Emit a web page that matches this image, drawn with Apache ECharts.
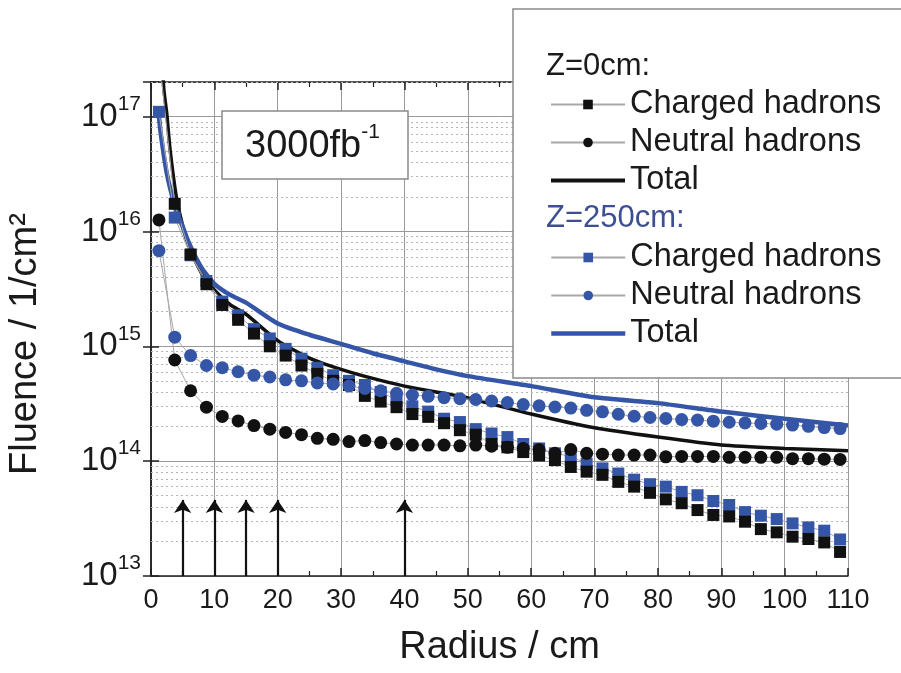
<!DOCTYPE html>
<html>
<head>
<meta charset="utf-8">
<script src="https://cdn.jsdelivr.net/npm/echarts@6/dist/echarts.min.js"></script>
<style>
  html, body { margin: 0; padding: 0; background: #fff; }
  #chart { width: 901px; height: 673px; }
</style>
</head>
<body>
<div id="chart"></div>
<script>
const FONT = "'Liberation Sans', Arial, Helvetica, sans-serif"
const BLUE = '#3556a6'

// radius of the simulated points (cm)
const radius = [1.25, 3.75, 6.25, 8.75, 11.25, 13.75, 16.25, 18.75, 21.25, 23.75,
  26.25, 28.75, 31.25, 33.75, 36.25, 38.75, 41.25, 43.75, 46.25, 48.75,
  51.25, 53.75, 56.25, 58.75, 61.25, 63.75, 66.25, 68.75, 71.25, 73.75,
  76.25, 78.75, 81.25, 83.75, 86.25, 88.75, 91.25, 93.75, 96.25, 98.75,
  101.25, 103.75, 106.25, 108.75]

// Z = 0 cm
const z0Charged = [3.5e17, 1.74e16, 6.3e15, 3.47e15, 2.29e15, 1.7e15, 1.29e15, 1.0e15, 8.3e14, 6.8e14,
  5.75e14, 5.0e14, 4.6e14, 3.7e14, 3.3e14, 2.95e14, 2.57e14, 2.43e14, 2.14e14, 1.86e14,
  1.7e14, 1.41e14, 1.32e14, 1.2e14, 1.12e14, 1.02e14, 8.9e13, 8.1e13, 7.6e13, 6.6e13,
  6.0e13, 5.3e13, 4.65e13, 4.3e13, 3.75e13, 3.4e13, 3.3e13, 2.97e13, 2.56e13, 2.4e13,
  2.2e13, 2.1e13, 1.96e13, 1.62e13]
const z0Neutral = [1.26e16, 7.6e14, 4.1e14, 2.95e14, 2.45e14, 2.24e14, 2.04e14, 1.9e14, 1.78e14, 1.7e14,
  1.58e14, 1.55e14, 1.48e14, 1.51e14, 1.45e14, 1.41e14, 1.38e14, 1.38e14, 1.38e14, 1.36e14,
  1.38e14, 1.35e14, 1.32e14, 1.29e14, 1.26e14, 1.17e14, 1.26e14, 1.17e14, 1.15e14, 1.13e14,
  1.13e14, 1.13e14, 1.09e14, 1.1e14, 1.1e14, 1.1e14, 1.08e14, 1.08e14, 1.08e14, 1.08e14,
  1.05e14, 1.05e14, 1.04e14, 1.035e14]

// Z = 250 cm
const z250Charged = [1.1e17, 1.32e16, 6.2e15, 3.7e15, 2.45e15, 1.86e15, 1.41e15, 1.17e15, 9.5e14, 7.8e14,
  6.5e14, 5.6e14, 5.0e14, 4.6e14, 4.0e14, 3.4e14, 3.0e14, 2.7e14, 2.34e14, 2.19e14,
  1.9e14, 1.74e14, 1.62e14, 1.41e14, 1.29e14, 1.17e14, 1.1e14, 9.5e13, 8.65e13, 7.8e13,
  6.9e13, 6.3e13, 6.0e13, 5.4e13, 5.05e13, 4.5e13, 4.15e13, 3.6e13, 3.35e13, 3.13e13,
  2.87e13, 2.65e13, 2.48e13, 2.08e13]
const z250Neutral = [6.8e15, 1.2e15, 8.3e14, 6.8e14, 6.5e14, 6.0e14, 5.6e14, 5.4e14, 5.1e14, 5.0e14,
  4.8e14, 4.7e14, 4.5e14, 4.3e14, 4.1e14, 3.9e14, 3.76e14, 3.67e14, 3.57e14, 3.5e14,
  3.44e14, 3.34e14, 3.24e14, 3.11e14, 3.03e14, 2.96e14, 2.9e14, 2.77e14, 2.69e14, 2.56e14,
  2.46e14, 2.4e14, 2.35e14, 2.3e14, 2.28e14, 2.23e14, 2.18e14, 2.15e14, 2.13e14, 2.1e14,
  2.06e14, 2.01e14, 1.96e14, 1.92e14]

// total curves
const totalRadius = [1.25, 1.5, 2, 2.5, 3, 4, 5, 6, 8, 10, 12.5, 15, 20, 25, 30, 35, 40, 45, 50, 60, 70, 80, 90, 100, 110]
const z0Total = [1.8e18, 8.5e17, 1.8e17, 1.05e17, 5.2e16, 2.0e16, 1.12e16, 7.4e15, 4.3e15, 3.1e15, 2.3e15, 1.9e15,
  1.12e15, 7.9e14, 6.3e14, 5.25e14, 4.5e14, 4.0e14, 3.55e14, 2.57e14, 1.95e14, 1.62e14, 1.38e14, 1.29e14, 1.23e14]
const z250Total = [1.0e17, 7.4e16, 4.7e16, 3.2e16, 2.4e16, 1.5e16, 1.1e16, 7.9e15, 4.8e15, 3.5e15, 2.8e15, 2.4e15,
  1.58e15, 1.26e15, 1.05e15, 8.7e14, 7.4e14, 6.3e14, 5.5e14, 4.5e14, 3.6e14, 3.2e14, 2.7e14, 2.34e14, 2.04e14]

// layer positions marked with arrows
const arrowRadius = [5, 10, 15, 20, 40]
const arrowTop = 4.6e13

const decades = [13, 14, 15, 16]
const minorSteps = [2, 3, 4, 5, 6, 7, 8, 9]

const pts = (xs, ys) => xs.map((x, i) => [x, ys[i]])

const minorGrid = []
decades.forEach(d => minorSteps.forEach(m => minorGrid.push({ yAxis: m * Math.pow(10, d) })))
minorGrid.push({ yAxis: 2e17 })

const chart = echarts.init(document.getElementById('chart'), null, { renderer: 'canvas' })

const axisLine = { show: true, lineStyle: { color: '#222', width: 1.5 } }
const tick = { show: true, inside: true, length: 8, lineStyle: { color: '#222', width: 1.5 } }

const pointSeries = (name, data, symbol, color, size) => ({
  name,
  type: 'line',
  data,
  symbol,
  symbolSize: size,
  showAllSymbol: true,
  itemStyle: { color },
  lineStyle: { color: '#a8a8a8', width: 1 }
})

const legendText = { fontSize: 32.5, color: '#1a1a1a', fontFamily: FONT }

chart.setOption({
  animation: false,
  backgroundColor: '#fff',
  textStyle: { fontFamily: FONT },
  grid: { left: 151, right: 53, top: 82, bottom: 97, outerBoundsMode: 'none' },
  xAxis: [
    {
      type: 'value', min: 0, max: 110, interval: 10, position: 'bottom',
      axisLine, axisTick: tick,
      minorTick: { show: true, splitNumber: 2, length: 5, lineStyle: { color: '#222', width: 1.2 } },
      axisLabel: { fontSize: 27, color: '#1a1a1a', margin: 11, fontFamily: FONT },
      splitLine: { show: true, lineStyle: { color: '#9a9a9a', width: 1 } },
      name: 'Radius / cm', nameLocation: 'middle', nameGap: 53,
      nameTextStyle: { fontSize: 38, color: '#1a1a1a', fontFamily: FONT }
    },
    {
      type: 'value', min: 0, max: 110, interval: 10, position: 'top',
      axisLine, axisTick: tick,
      minorTick: { show: true, splitNumber: 2, length: 5, lineStyle: { color: '#222', width: 1.2 } },
      axisLabel: { show: false }, splitLine: { show: false }
    }
  ],
  yAxis: [
    {
      type: 'log', logBase: 10, min: 1e13, max: 2e17, position: 'left',
      axisLine, axisTick: tick,
      axisLabel: {
        margin: 10,
        formatter: v => {
          const e = Math.log10(v)
          if (Math.abs(e - Math.round(e)) > 1e-6) return ''
          return '{b|10}{s|' + Math.round(e) + '}'
        },
        rich: {
          b: { fontSize: 33, lineHeight: 46, color: '#1a1a1a', fontFamily: FONT },
          s: { fontSize: 21, lineHeight: 21, verticalAlign: 'top', color: '#1a1a1a', fontFamily: FONT }
        }
      },
      splitLine: { show: true, lineStyle: { color: '#9a9a9a', width: 1 } },
      name: 'Fluence / 1/cm²', nameLocation: 'middle', nameGap: 106, nameRotate: 90,
      nameTextStyle: { fontSize: 38, color: '#1a1a1a', fontFamily: FONT, padding: [0, 30, 0, 0] }
    },
    {
      type: 'log', logBase: 10, min: 1e13, max: 2e17, position: 'right',
      axisLine, axisTick: tick,
      axisLabel: { show: false }, splitLine: { show: false }
    }
  ],
  legend: [
    {
      data: ['Z0 Charged hadrons', 'Z0 Neutral hadrons',
        { name: 'Z0 Total', itemStyle: { opacity: 0 }, lineStyle: { width: 4 } }],
      formatter: n => n.replace(/^Z\d+ /, ''),
      orient: 'vertical', left: 544, top: 83, itemWidth: 74, itemHeight: 12, itemGap: 5,
      selectedMode: false, z: 51, textStyle: legendText
    },
    {
      data: ['Z250 Charged hadrons', 'Z250 Neutral hadrons',
        { name: 'Z250 Total', itemStyle: { opacity: 0 }, lineStyle: { width: 4.5 } }],
      formatter: n => n.replace(/^Z\d+ /, ''),
      orient: 'vertical', left: 544, top: 236, itemWidth: 74, itemHeight: 12, itemGap: 5,
      selectedMode: false, z: 51, textStyle: legendText
    }
  ],
  graphic: [
    { type: 'rect', shape: { x: 513, y: 9, width: 400, height: 369 }, style: { fill: '#fff', stroke: '#8a8a8a', lineWidth: 1.5 }, z: 50 },
    { type: 'text', x: 546, y: 66, z: 52, style: { text: 'Z=0cm:', fontSize: 31, fontFamily: FONT, fill: '#1a1a1a', verticalAlign: 'middle' } },
    { type: 'text', x: 546, y: 218, z: 52, style: { text: 'Z=250cm:', fontSize: 31, fontFamily: FONT, fill: '#3d4f92', verticalAlign: 'middle' } },
    { type: 'rect', shape: { x: 222, y: 111, width: 186, height: 68 }, style: { fill: '#fff', stroke: '#8a8a8a', lineWidth: 1.5 }, z: 50 },
    {
      type: 'text', x: 245, y: 147, z: 52,
      style: {
        text: '{a|3000fb}{s|-1}', verticalAlign: 'middle',
        rich: {
          a: { fontSize: 38, lineHeight: 50, fontFamily: FONT, fill: '#1a1a1a' },
          s: { fontSize: 21, lineHeight: 24, verticalAlign: 'top', fontFamily: FONT, fill: '#1a1a1a' }
        }
      }
    }
  ],
  series: [
    {
      name: 'Z0 Total', type: 'line', data: pts(totalRadius, z0Total),
      symbol: 'none', smooth: 0.2, clip: true,
      itemStyle: { color: '#111' },
      lineStyle: { color: '#111', width: 3.5 },
      markLine: {
        silent: true, symbol: 'none', z: 1, label: { show: false },
        lineStyle: { color: '#b5b5b5', width: 1, type: [2, 3] },
        data: minorGrid
      }
    },
    {
      name: 'Z250 Total', type: 'line', data: pts(totalRadius, z250Total),
      symbol: 'none', smooth: 0.2, clip: true,
      itemStyle: { color: BLUE },
      lineStyle: { color: BLUE, width: 4.5 }
    },
    pointSeries('Z250 Charged hadrons', pts(radius, z250Charged), 'rect', BLUE, 12),
    pointSeries('Z0 Charged hadrons', pts(radius, z0Charged), 'rect', '#111', 12),
    pointSeries('Z250 Neutral hadrons', pts(radius, z250Neutral), 'circle', BLUE, 13),
    Object.assign(pointSeries('Z0 Neutral hadrons', pts(radius, z0Neutral), 'circle', '#111', 13), {
      markLine: {
        silent: true, symbol: ['none', 'arrow'], symbolSize: 13,
        label: { show: false },
        lineStyle: { color: '#111', width: 2.2, type: 'solid' },
        data: arrowRadius.map(r => [{ coord: [r, 1e13] }, { coord: [r, arrowTop] }])
      }
    })
  ]
})
</script>
</body>
</html>
